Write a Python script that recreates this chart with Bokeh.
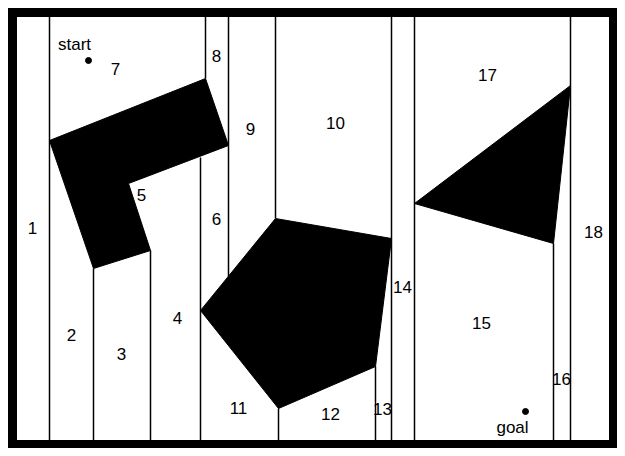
from bokeh.plotting import figure
from bokeh.models import ColumnDataSource
from bokeh.core.properties import value
from bokeh.embed import file_html
from bokeh.resources import INLINE

# obstacles (image pixel coords)
obstacle_xs = [[49, 205, 228, 128, 150, 93],
               [275, 391, 375, 278, 200],
               [414, 570, 553]]
obstacle_ys = [[140, 78, 145, 183, 250, 268],
               [218, 238, 366, 408, 310],
               [203, 85, 243]]

# vertical decomposition lines: x, top, bottom
line_x = [49, 93, 150, 200, 205, 228, 275, 278, 375, 391, 414, 553, 570]
line_top = [14, 268, 250, 157, 14, 14, 14, 408, 366, 14, 14, 243, 14]
line_bot = [442, 442, 442, 442, 78, 276, 218, 442, 442, 442, 442, 442, 442]

# cell labels
labels = [str(i) for i in range(1, 19)]
label_x = [32, 71, 121, 177, 141, 216, 115, 216, 250, 335, 238, 330, 382, 402, 481, 561, 487, 593]
label_y = [227, 334, 353, 317, 194, 218, 68, 55, 128, 122, 407, 413, 408, 286, 322, 378, 74, 231]

point_x = [88, 525]
point_y = [60, 411]
point_names = ["start", "goal"]
point_lx = [74, 512]
point_ly = [44, 427]

p = figure(width=617, height=448, x_range=(0, 617), y_range=(448, 0),
           toolbar_location=None, output_backend="svg", min_border=0)
p.axis.visible = False
p.grid.visible = False
p.outline_line_color = None

# thick frame
p.quad(left=[8, 8, 8, 609], right=[617, 617, 16, 617], top=[8, 440, 8, 8],
       bottom=[16, 448, 448, 448], color="black")

p.segment(x0=line_x, y0=line_top, x1=line_x, y1=line_bot, line_color="black", line_width=1.5)
p.patches(obstacle_xs, obstacle_ys, fill_color="black", line_color="black")

src = ColumnDataSource(dict(x=label_x, y=label_y, t=labels))
p.text(x="x", y="y", text="t", source=src, text_align="center", text_baseline="middle",
       text_font=value("Liberation Sans"), text_font_size="17px", text_color="black")

p.scatter(point_x, point_y, size=6, color="black")
p.text(x=point_lx, y=point_ly, text=point_names, text_align="center", text_baseline="middle",
       text_font=value("Liberation Sans"), text_font_size="17px", text_color="black")

open("out.html", "w").write(file_html(p, INLINE))
